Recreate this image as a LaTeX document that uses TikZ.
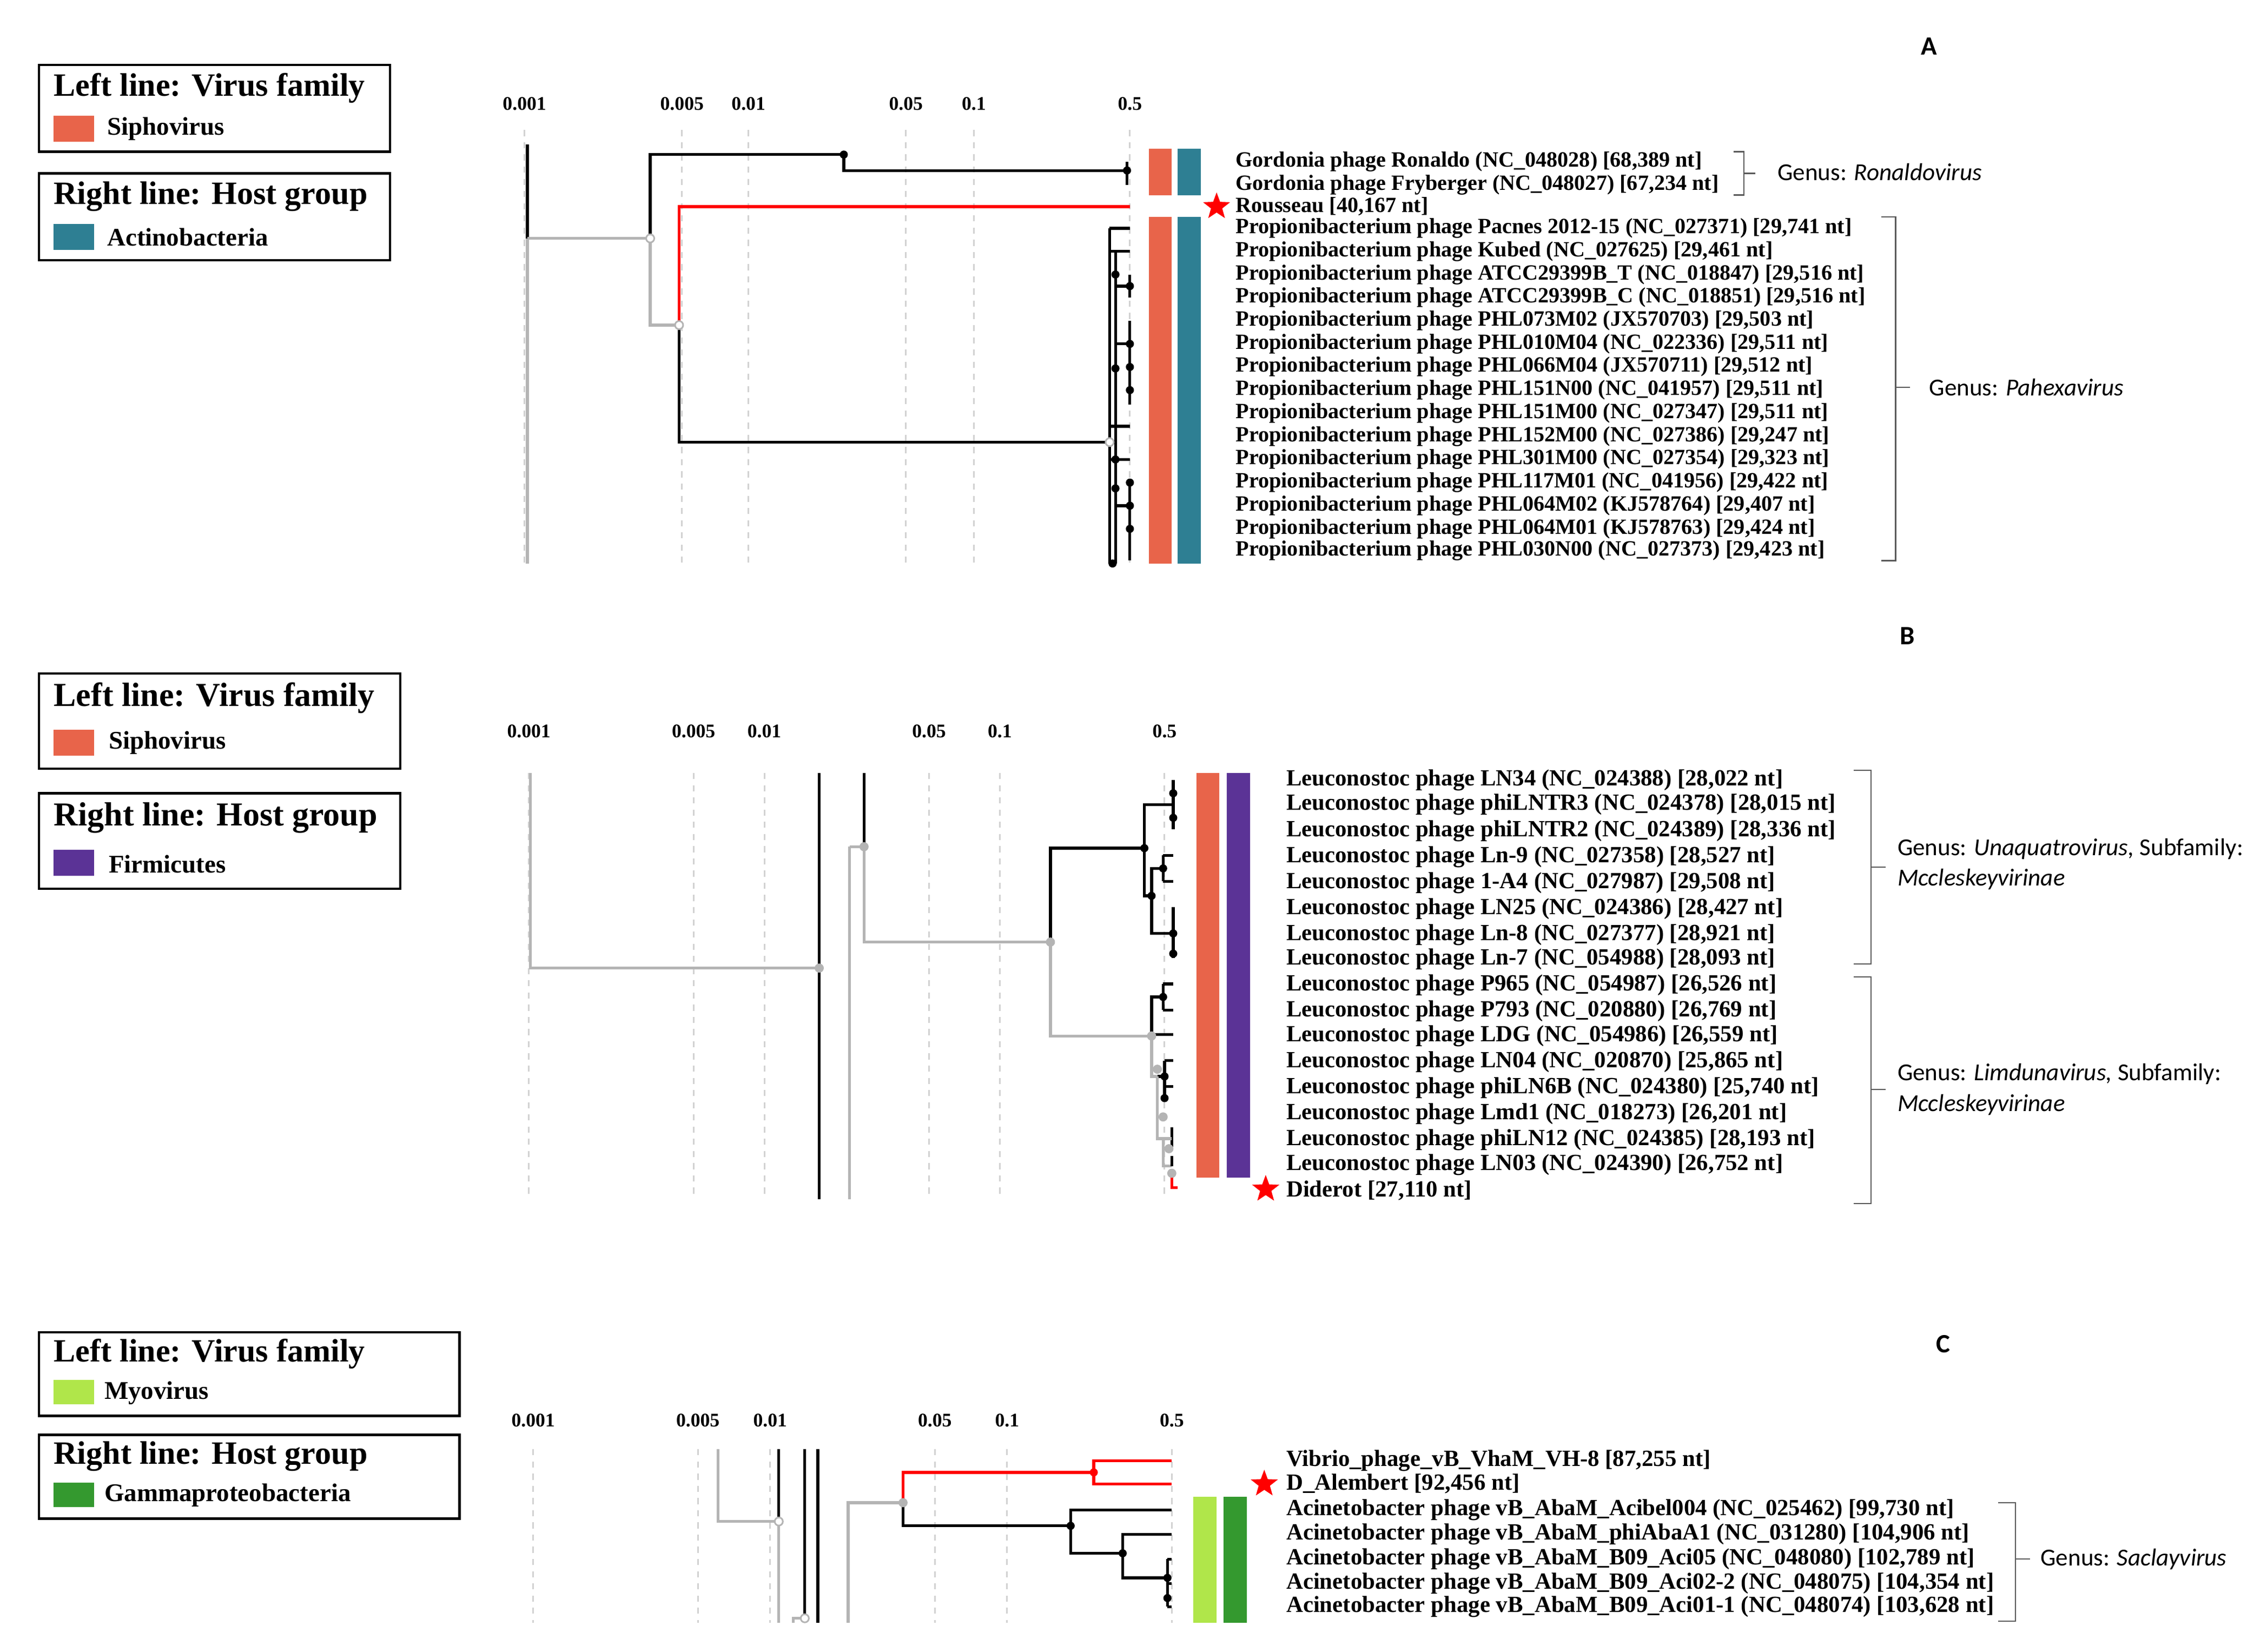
\documentclass[tikz,border=0pt]{standalone}
\usepackage{fontspec}
\setmainfont{Liberation Serif}
\newfontfamily\gensans{Carlito}
\usetikzlibrary{shapes.geometric}
\definecolor{sipho}{HTML}{E8644A}
\definecolor{actino}{HTML}{2E7F93}
\definecolor{firmi}{HTML}{5B3396}
\definecolor{myo}{HTML}{B0E64A}
\definecolor{gamma}{HTML}{34992F}
\definecolor{gbr}{HTML}{B4B4B4}
\begin{document}
\begin{tikzpicture}[x=0.025cm, y=-0.025cm]
        \tikzset{legbox/.style={draw=black, line width=1.2pt},
            legtitle/.style={anchor=west, inner sep=0pt, font=\bfseries\fontsize{16}{16}\selectfont},
            legname/.style={anchor=west, inner sep=0pt, font=\bfseries\fontsize{12.5}{13}\selectfont},
            scalelab/.style={inner sep=0pt, font=\bfseries\fontsize{9.5}{9.5}\selectfont},
            grid/.style={gray!35, dashed, line width=0.8pt},
            leafA/.style={anchor=west, inner sep=0pt, font=\bfseries\fontsize{10.7}{10.7}\selectfont},
            leafB/.style={anchor=west, inner sep=0pt, font=\bfseries\fontsize{11.4}{11.4}\selectfont},
            genus/.style={anchor=west, inner sep=0pt, align=left, font=\gensans\fontsize{12}{15}\selectfont},
            panel/.style={inner sep=0pt, font=\gensans\bfseries\fontsize{13}{13}\selectfont},
            br/.style={black, line width=1.4pt},
            gb/.style={gbr, line width=1.4pt},
            rb/.style={red, line width=1.4pt},
            dot/.style={circle, fill=black, inner sep=0pt, minimum size=4pt},
            gdot/.style={circle, fill=gbr, inner sep=0pt, minimum size=4.5pt},
            odot/.style={circle, draw=gbr, fill=white, line width=0.8pt, inner sep=0pt, minimum size=4pt},
            redstar/.style={star, star points=5, star point ratio=2.4, fill=red, inner sep=0pt, minimum size=14pt},
            brace/.style={gray!70!black, line width=0.6pt}}
        \useasboundingbox (0,0) rectangle (1560,1143);

        % ---------------- panel A
        \node[panel] (pA) at (1335,32) {A};
        \draw[legbox] (27,45) rectangle (270,105);
        \node[legtitle] (tA1) at (37,61) {Left line: Virus family};
        \fill[sipho] (37,80) rectangle (65,98);
        \node[legname] (nA1) at (74,89) {Siphovirus};
        \draw[legbox] (27,120) rectangle (270,180);
        \node[legtitle] (tA2) at (37,136) {Right line: Host group};
        \fill[actino] (37,155) rectangle (65,173);
        \node[legname] (nA2) at (74,164) {Actinobacteria};
        \foreach \x/\s in {363/0.001, 472/0.005, 518/0.01, 627/0.05, 674/0.1, 782/0.5} {
            \node[scalelab] at (\x,72) {\s};
            \draw[grid] (\x,90) -- (\x,390);
        }
        % tree A
        \draw[br] (365,100) -- (365,165);
        \draw[gb] (365,165) -- (365,390);
        \draw[gb] (365,165) -- (450,165);
        \draw[br] (450,165) |- (584,107);
        \draw[br] (584,107) |- (780,118);
        \draw[br] (780,112) -- (780,128);
        \draw[gb] (450,165) |- (470,225);
        \draw[rb] (470,225) |- (782,143);
        \draw[br] (470,225) |- (768,306);
        \node[dot] at (584,107) {};
        \node[dot] at (780,118) {};
        \node[odot] (nA0) at (450,165) {};
        \node[odot] (nA1r) at (470,225) {};
        \draw[br] (768,158) -- (768,390);
        \draw[br] (772,174) -- (772,390);
        \foreach \y in {158, 174, 295, 318} \draw[br] (768,\y) -- (782,\y);
        \draw[br] (772,198) -- (782,198);
        \draw[br] (782,190) -- (782,206);
        \draw[br] (772,238) -- (782,238);
        \draw[br] (782,222) -- (782,280);
        \draw[br] (772,350) -- (782,350);
        \draw[br] (782,334) -- (782,388);
        \foreach \p in {(772,190), (782,198), (782,238), (772,255), (782,254), (782,270), (772,318), (772,338), (782,334), (782,350), (782,366), (770,390)}
            \node[dot] at \p {};
        \node[odot] at (768,306) {};
        % bars A
        \fill[sipho] (795,103) rectangle (811,135);
        \fill[sipho] (795,150) rectangle (811,390);
        \fill[actino] (815,103) rectangle (831,135);
        \fill[actino] (815,150) rectangle (831,390);
        \node[redstar] (sA) at (842,143) {};
        \foreach \y/\t in {112/{Gordonia phage Ronaldo (NC\_048028) [68,389 nt]},
            128/{Gordonia phage Fryberger (NC\_048027) [67,234 nt]},
            143/{Rousseau [40,167 nt]},
            158/{Propionibacterium phage Pacnes 2012-15 (NC\_027371) [29,741 nt]},
            174/{Propionibacterium phage Kubed (NC\_027625) [29,461 nt]},
            190/{Propionibacterium phage ATCC29399B\_T (NC\_018847) [29,516 nt]},
            206/{Propionibacterium phage ATCC29399B\_C (NC\_018851) [29,516 nt]},
            222/{Propionibacterium phage PHL073M02 (JX570703) [29,503 nt]},
            238/{Propionibacterium phage PHL010M04 (NC\_022336) [29,511 nt]},
            254/{Propionibacterium phage PHL066M04 (JX570711) [29,512 nt]},
            270/{Propionibacterium phage PHL151N00 (NC\_041957) [29,511 nt]},
            286/{Propionibacterium phage PHL151M00 (NC\_027347) [29,511 nt]},
            302/{Propionibacterium phage PHL152M00 (NC\_027386) [29,247 nt]},
            318/{Propionibacterium phage PHL301M00 (NC\_027354) [29,323 nt]},
            334/{Propionibacterium phage PHL117M01 (NC\_041956) [29,422 nt]},
            350/{Propionibacterium phage PHL064M02 (KJ578764) [29,407 nt]},
            366/{Propionibacterium phage PHL064M01 (KJ578763) [29,424 nt]},
            381/{Propionibacterium phage PHL030N00 (NC\_027373) [29,423 nt]}}
            \node[leafA] at (855,\y) {\t};
        \draw[brace] (1200,105) -- (1207,105) -- (1207,135) -- (1200,135);
        \draw[brace] (1207,120) -- (1215,120);
        \node[genus] (gA1) at (1230,119) {Genus: \textit{Ronaldovirus}};
        \draw[brace] (1302,150) -- (1312,150) -- (1312,388) -- (1302,388);
        \draw[brace] (1312,268) -- (1322,268);
        \node[genus] (gA2) at (1335,268) {Genus: \textit{Pahexavirus}};

        % ---------------- panel B
        \node[panel] (pB) at (1320,440) {B};
        \draw[legbox] (27,466) rectangle (277,532);
        \node[legtitle, font=\bfseries\fontsize{16.5}{16.5}\selectfont] (tB1) at (37,483) {Left line: Virus family};
        \fill[sipho] (37,505) rectangle (65,523);
        \node[legname] (nB1) at (75,514) {Siphovirus};
        \draw[legbox] (27,549) rectangle (277,615);
        \node[legtitle, font=\bfseries\fontsize{16.5}{16.5}\selectfont] (tB2) at (37,566) {Right line: Host group};
        \fill[firmi] (37,588) rectangle (65,606);
        \node[legname] (nB2) at (75,598) {Firmicutes};
        \foreach \x/\s in {366/0.001, 480/0.005, 529/0.01, 643/0.05, 692/0.1, 806/0.5} {
            \node[scalelab] at (\x,506) {\s};
            \draw[grid] (\x,535) -- (\x,830);
        }
        % tree B
        \draw[gb] (367,535) |- (567,670);
        \draw[br] (567,535) -- (567,830);
        \draw[gb] (588,586) -- (588,830);
        \draw[gb] (588,586) -- (598,586);
        \draw[br] (598,535) -- (598,586);
        \draw[gb] (598,586) |- (727,652);
        \draw[br] (727,652) |- (792,587);
        \draw[gb] (727,652) |- (797,717);
        \draw[br] (792,587) |- (812,557);
        \draw[br] (812,540) -- (812,574);
        \draw[br] (792,587) |- (797,620);
        \draw[br] (797,620) |- (805,601);
        \draw[br] (805,592) -- (805,610);
        \draw[br] (797,620) |- (812,646);
        \draw[br] (812,628) -- (812,663);
        \foreach \y in {592, 610} \draw[br] (805,\y) -- (812,\y);
        \draw[br] (797,717) |- (805,690);
        \draw[br] (805,681) -- (805,699);
        \foreach \y in {681, 699, 716} \draw[br] (805,\y) -- (812,\y);
        \draw[br] (797,716) -- (805,716);
        \draw[gb] (797,717) |- (801,745);
        \draw[br] (801,745) -- (806,745);
        \draw[br] (806,734) -- (806,760);
        \foreach \y in {734, 752} \draw[br] (806,\y) -- (812,\y);
        \draw[gb] (801,745) |- (805,788);
        \draw[br] (811,780) -- (811,796);
        \draw[gb] (805,788) -- (811,788);
        \draw[gb] (805,788) |- (811,807);
        \draw[br] (811,800) -- (811,807);
        \draw[rb] (811,814) -- (811,822) -- (815,822);
        \foreach \p in {(812,549), (812,566), (792,587), (797,620), (805,601), (812,646), (812,660), (805,690), (806,745), (806,760)}
            \node[dot] at \p {};
        \foreach \p in {(598,586), (567,670), (727,652), (797,717), (801,740), (805,773), (809,795), (811,812)}
            \node[gdot] at \p {};
        % bars B
        \fill[sipho] (828,535) rectangle (844,815);
        \fill[firmi] (849,535) rectangle (865,815);
        \node[redstar] (sB) at (876,823) {};
        \foreach \y/\t in {540/{Leuconostoc phage LN34 (NC\_024388) [28,022 nt]},
            557/{Leuconostoc phage phiLNTR3 (NC\_024378) [28,015 nt]},
            575/{Leuconostoc phage phiLNTR2 (NC\_024389) [28,336 nt]},
            593/{Leuconostoc phage Ln-9 (NC\_027358) [28,527 nt]},
            611/{Leuconostoc phage 1-A4 (NC\_027987) [29,508 nt]},
            629/{Leuconostoc phage LN25 (NC\_024386) [28,427 nt]},
            647/{Leuconostoc phage Ln-8 (NC\_027377) [28,921 nt]},
            664/{Leuconostoc phage Ln-7 (NC\_054988) [28,093 nt]},
            682/{Leuconostoc phage P965 (NC\_054987) [26,526 nt]},
            700/{Leuconostoc phage P793 (NC\_020880) [26,769 nt]},
            717/{Leuconostoc phage LDG (NC\_054986) [26,559 nt]},
            735/{Leuconostoc phage LN04 (NC\_020870) [25,865 nt]},
            753/{Leuconostoc phage phiLN6B (NC\_024380) [25,740 nt]},
            771/{Leuconostoc phage Lmd1 (NC\_018273) [26,201 nt]},
            789/{Leuconostoc phage phiLN12 (NC\_024385) [28,193 nt]},
            806/{Leuconostoc phage LN03 (NC\_024390) [26,752 nt]},
            824/{Diderot [27,110 nt]}}
            \node[leafB] at (890,\y) {\t};
        \draw[brace] (1283,533) -- (1295,533) -- (1295,667) -- (1283,667);
        \draw[brace] (1295,600) -- (1305,600);
        \node[genus] (gB1) at (1313,598) {Genus: \textit{Unaquatrovirus,} Subfamily:\\\textit{Mccleskeyvirinae}};
        \draw[brace] (1283,676) -- (1295,676) -- (1295,833) -- (1283,833);
        \draw[brace] (1295,754) -- (1305,754);
        \node[genus] (gB2) at (1313,754) {Genus: \textit{Limdunavirus,} Subfamily:\\\textit{Mccleskeyvirinae}};

        % ---------------- panel C
        \node[panel] (pC) at (1345,930) {C};
        \draw[legbox] (27,922) rectangle (318,980);
        \node[legtitle] (tC1) at (37,937) {Left line: Virus family};
        \fill[myo] (37,955) rectangle (65,972);
        \node[legname] (nC1) at (72,964) {Myovirus};
        \draw[legbox] (27,993) rectangle (318,1051);
        \node[legtitle] (tC2) at (37,1008) {Right line: Host group};
        \fill[gamma] (37,1026) rectangle (65,1043);
        \node[legname] (nC2) at (72,1035) {Gammaproteobacteria};
        \foreach \x/\s in {369/0.001, 483/0.005, 533/0.01, 647/0.05, 697/0.1, 811/0.5} {
            \node[scalelab] at (\x,983) {\s};
            \draw[grid] (\x,1003) -- (\x,1123);
        }
        % tree C
        \draw[gb] (497,1003) |- (539,1053);
        \draw[br] (539,1003) -- (539,1053);
        \draw[gb] (539,1053) -- (539,1123);
        \draw[br] (557,1003) -- (557,1120);
        \draw[gb] (557,1120) -- (549,1120) -- (549,1123);
        \draw[br] (566,1003) -- (566,1123);
        \draw[gb] (587,1123) |- (625,1040);
        \draw[rb] (625,1040) |- (757,1019);
        \draw[rb] (757,1019) |- (811,1011);
        \draw[rb] (757,1019) |- (811,1027);
        \draw[br] (625,1040) |- (741,1056);
        \draw[br] (741,1056) |- (811,1045);
        \draw[br] (741,1056) |- (777,1075);
        \draw[br] (777,1075) |- (811,1062);
        \draw[br] (777,1075) |- (808,1092);
        \draw[br] (808,1079) -- (808,1112);
        \foreach \y in {1079, 1096, 1112} \draw[br] (808,\y) -- (811,\y);
        \node[odot] at (539,1053) {};
        \node[odot] at (557,1120) {};
        \node[gdot] at (625,1040) {};
        \node[dot, fill=red] at (757,1019) {};
        \foreach \p in {(741,1056), (777,1075), (808,1092), (808,1106)}
            \node[dot] at \p {};
        % bars C
        \fill[myo] (826,1036) rectangle (842,1123);
        \fill[gamma] (847,1036) rectangle (863,1123);
        \node[redstar] (sC) at (875,1027) {};
        \foreach \y/\t in {1011/{Vibrio\_phage\_vB\_VhaM\_VH-8 [87,255 nt]},
            1027/{D\_Alembert [92,456 nt]},
            1045/{Acinetobacter phage vB\_AbaM\_Acibel004 (NC\_025462) [99,730 nt]},
            1062/{Acinetobacter phage vB\_AbaM\_phiAbaA1 (NC\_031280) [104,906 nt]},
            1079/{Acinetobacter phage vB\_AbaM\_B09\_Aci05 (NC\_048080) [102,789 nt]},
            1096/{Acinetobacter phage vB\_AbaM\_B09\_Aci02-2 (NC\_048075) [104,354 nt]},
            1112/{Acinetobacter phage vB\_AbaM\_B09\_Aci01-1 (NC\_048074) [103,628 nt]}}
            \node[leafB] at (890,\y) {\t};
        \draw[brace] (1383,1040) -- (1395,1040) -- (1395,1122) -- (1383,1122);
        \draw[brace] (1395,1079) -- (1405,1079);
        \node[genus] (gC) at (1412,1079) {Genus: \textit{Saclayvirus}};
    \end{tikzpicture}
\end{document}
